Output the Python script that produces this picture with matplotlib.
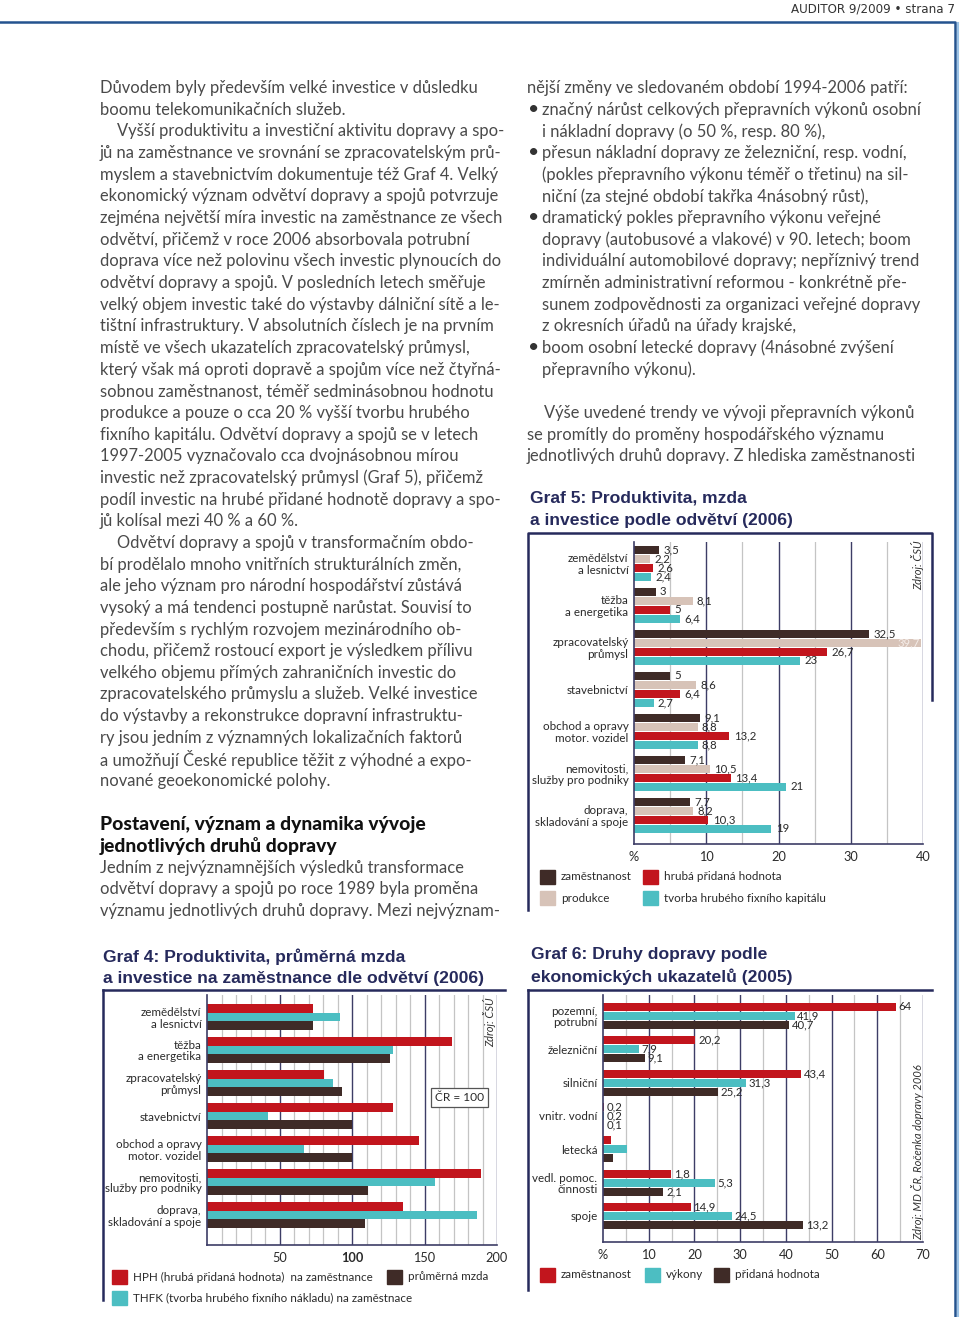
# Auditor 9/2009, strana 7 - text a grafy 4, 5, 6
import numpy as np
import matplotlib
matplotlib.use("Agg")
import matplotlib.pyplot as plt
from matplotlib.lines import Line2D
from matplotlib.patches import Rectangle

# ---- data ----
odvetvi = ["zemědělství\na lesnictví", "těžba\na energetika", "zpracovatelský\nprůmysl",
           "stavebnictví", "obchod a opravy\nmotor. vozidel", "nemovitosti,\nslužby pro podniky",
           "doprava,\nskladování a spoje"]

# Graf 4 (ČR = 100)
g4_hph = [73, 169, 81, 128, 146, 189, 135]
g4_thfk = [92, 128, 87, 42, 67, 157, 186]
g4_mzda = [73, 126, 93, 100, 100, 111, 109]
g4_ticks = [50, 100, 150, 200]

# Graf 5 (%)
g5_zam = [3.5, 3, 32.5, 5, 9.1, 7.1, 7.7]
g5_prod = [2.2, 8.1, 39.7, 8.6, 8.8, 10.5, 8.2]
g5_hph = [2.6, 5, 26.7, 6.4, 13.2, 13.4, 10.3]
g5_thfk = [2.4, 6.4, 23, 2.7, 8.8, 21, 19]
g5_ticks = [0, 10, 20, 30, 40]
g5_ticklabels = ["%", "10", "20", "30", "40"]

# Graf 6 (%)
druhy = ["pozemní,\npotrubní", "železniční", "silniční", "vnitr. vodní", "letecká",
         "vedl. pomoc.\nčinnosti", "spoje"]
g6_zam = [64, 20.2, 43.4, 0.2, 1.8, 14.9, 19.2]
g6_vyk = [41.9, 7.9, 31.3, 0.2, 5.3, 24.5, 28.2]
g6_prid = [40.7, 9.1, 25.2, 0.1, 2.1, 13.2, 43.8]
# popisky tak, jak jsou vytištěné
g6_zam_lbl = ["64", "20,2", "43,4", "0,2", "", "1,8", "14,9"]
g6_vyk_lbl = ["41,9", "7,9", "31,3", "0,2", "", "5,3", "24,5"]
g6_prid_lbl = ["40,7", "9,1", "25,2", "0,1", "", "2,1", "13,2"]
g6_ticks = [0, 10, 20, 30, 40, 50, 60, 70]
g6_ticklabels = ["%", "10", "20", "30", "40", "50", "60", "70"]

left_text = [
    "Důvodem byly především velké investice v důsledku",
    "boomu telekomunikačních služeb.",
    "    Vyšší produktivitu a investiční aktivitu dopravy a spo-",
    "jů na zaměstnance ve srovnání se zpracovatelským prů-",
    "myslem a stavebnictvím dokumentuje též Graf 4. Velký",
    "ekonomický význam odvětví dopravy a spojů potvrzuje",
    "zejména největší míra investic na zaměstnance ze všech",
    "odvětví, přičemž v roce 2006 absorbovala potrubní",
    "doprava více než polovinu všech investic plynoucích do",
    "odvětví dopravy a spojů. V posledních letech směřuje",
    "velký objem investic také do výstavby dálniční sítě a le-",
    "tištní infrastruktury. V absolutních číslech je na prvním",
    "místě ve všech ukazatelích zpracovatelský průmysl,",
    "který však má oproti dopravě a spojům více než čtyřná-",
    "sobnou zaměstnanost, téměř sedminásobnou hodnotu",
    "produkce a pouze o cca 20 % vyšší tvorbu hrubého",
    "fixního kapitálu. Odvětví dopravy a spojů se v letech",
    "1997-2005 vyznačovalo cca dvojnásobnou mírou",
    "investic než zpracovatelský průmysl (Graf 5), přičemž",
    "podíl investic na hrubé přidané hodnotě dopravy a spo-",
    "jů kolísal mezi 40 % a 60 %.",
    "    Odvětví dopravy a spojů v transformačním obdo-",
    "bí prodělalo mnoho vnitřních strukturálních změn,",
    "ale jeho význam pro národní hospodářství zůstává",
    "vysoký a má tendenci postupně narůstat. Souvisí to",
    "především s rychlým rozvojem mezinárodního ob-",
    "chodu, přičemž rostoucí export je výsledkem přílivu",
    "velkého objemu přímých zahraničních investic do",
    "zpracovatelského průmyslu a služeb. Velké investice",
    "do výstavby a rekonstrukce dopravní infrastruktu-",
    "ry jsou jedním z významných lokalizačních faktorů",
    "a umožňují České republice těžit z výhodné a expo-",
    "nované geoekonomické polohy.",
]
heading = ["Postavení, význam a dynamika vývoje", "jednotlivých druhů dopravy"]
left_text2 = [
    "Jedním z nejvýznamnějších výsledků transformace",
    "odvětví dopravy a spojů po roce 1989 byla proměna",
    "významu jednotlivých druhů dopravy. Mezi nejvýznam-",
]
# (odrážka?, text)
right_text = [
    (False, "nější změny ve sledovaném období 1994-2006 patří:"),
    (True, "značný nárůst celkových přepravních výkonů osobní"),
    (None, "i nákladní dopravy (o 50 %, resp. 80 %),"),
    (True, "přesun nákladní dopravy ze železniční, resp. vodní,"),
    (None, "(pokles přepravního výkonu téměř o třetinu) na sil-"),
    (None, "niční (za stejné období takřka 4násobný růst),"),
    (True, "dramatický pokles přepravního výkonu veřejné"),
    (None, "dopravy (autobusové a vlakové) v 90. letech; boom"),
    (None, "individuální automobilové dopravy; nepříznivý trend"),
    (None, "zmírněn administrativní reformou - konkrétně pře-"),
    (None, "sunem zodpovědnosti za organizaci veřejné dopravy"),
    (None, "z okresních úřadů na úřady krajské,"),
    (True, "boom osobní letecké dopravy (4násobné zvýšení"),
    (None, "přepravního výkonu)."),
    (False, ""),
    (False, "    Výše uvedené trendy ve vývoji přepravních výkonů"),
    (False, "se promítly do proměny hospodářského významu"),
    (False, "jednotlivých druhů dopravy. Z hlediska zaměstnanosti"),
]

# ---- styl ----
C_BROWN = "#3f2b27"
C_BEIGE = "#d7c3b8"
C_RED = "#c2151d"
C_CYAN = "#4cbec2"
C_NAVY = "#262a5c"
C_GRID = "#3d3d66"
C_MINOR = "#c4c4c4"
C_TEXT = "#4a4a4a"
BODY = dict(family=["Lato", "DejaVu Sans"], fontweight="normal", fontsize=11.9, color=C_TEXT)
SMALL = dict(family=["Lato", "DejaVu Sans"], fontsize=8.35, color="#2a2a2a")
TITLE = dict(family=["Liberation Sans", "DejaVu Sans"], fontweight="bold", fontsize=12.6, color=C_NAVY)

W, H = 960, 1317
fig = plt.figure(figsize=(W / 100, H / 100), dpi=100)


def fx(x):
    return x / W


def fy(y):
    return 1 - y / H


def put(x, y, s, **kw):
    kw.setdefault("va", "center")
    fig.text(fx(x), fy(y), s, **kw)


def line(xs, ys, **kw):
    fig.add_artist(Line2D([fx(x) for x in xs], [fy(y) for y in ys], **kw))


def fmt(v):
    return f"{v:g}".replace(".", ",")


def bar_chart(box, xmax, series, colors, first_top, gpitch, bpitch, bh, cats,
              minor, major, ticks, ticklabels):
    x0, y0, x1, y1 = box
    ax = fig.add_axes([fx(x0), fy(y1), (x1 - x0) / W, (y1 - y0) / H])
    ax.set_xlim(0, xmax)
    ax.set_ylim(y1 - y0, 0)  # y v pixelech od horního okraje os
    for v in minor:
        ax.axvline(v, color=C_MINOR, lw=0.9, zorder=0)
    for v in major:
        ax.axvline(v, color=C_GRID, lw=1.0, zorder=0)
    n = len(cats)
    g = np.arange(n)
    centers = []
    for j, (vals, col) in enumerate(zip(series, colors)):
        yc = (first_top - y0) + g * gpitch + j * bpitch + bh / 2
        ax.barh(yc, vals, height=bh, color=col, zorder=2)
        centers.append(yc)
    ax.set_yticks((centers[0] + centers[-1]) / 2)
    ax.set_yticklabels(cats, ha="right", linespacing=1.05, **SMALL)
    ax.set_xticks(ticks)
    ax.set_xticklabels(ticklabels, family=["Lato", "DejaVu Sans"], fontsize=9.2, color="#2a2a2a")
    ax.tick_params(axis="y", length=0, pad=4)
    ax.tick_params(axis="x", length=0, pad=5)
    for s in ("top", "right"):
        ax.spines[s].set_visible(False)
    for s in ("left", "bottom"):
        ax.spines[s].set_color(C_GRID)
        ax.spines[s].set_linewidth(1.2)
    ax.set_facecolor("none")
    return ax, centers


# ---- záhlaví a rámeček stránky ----
put(955, 9, "AUDITOR 9/2009 • strana 7", ha="right",
    family=["Liberation Sans Narrow", "DejaVu Sans"], fontsize=8.6, color="#333333")
line([0, 955, 955], [22, 22, 1317], color="#24538f", lw=1.8)
line([957.5, 957.5], [23, 1317], color="#9cc3e6", lw=1.5)

# ---- text ----
pitch = 21.66
for i, s in enumerate(left_text):
    put(100, 88 + i * pitch, s, **BODY)
for i, s in enumerate(heading):
    put(100, 88 + (len(left_text) + 1 + i) * pitch, s,
        family=["Lato", "DejaVu Sans"], fontweight="black", fontsize=13.9, color="#111111")
for i, s in enumerate(left_text2):
    put(100, 88 + (len(left_text) + 3 + i) * pitch, s, **BODY)

for i, (bul, s) in enumerate(right_text):
    y = 88 + i * pitch
    if bul is True:
        put(528, y, "•", family=["Lato", "DejaVu Sans"], fontsize=14, color="#333333")
    put(527 if bul is False else 542, y, s, **BODY)

# ---- Graf 5 ----
put(530, 498, "Graf 5: Produktivita, mzda", **TITLE)
put(530, 520, "a investice podle odvětví (2006)", **TITLE)
line([528, 528, 932, 932], [910, 533, 533, 700], color=C_NAVY, lw=1.8)
ax5, c5 = bar_chart((634, 542, 923, 844), 40, [g5_zam, g5_prod, g5_hph, g5_thfk],
                    [C_BROWN, C_BEIGE, C_RED, C_CYAN], 546, 42, 9, 8, odvetvi,
                    [5, 15, 25, 35], [10, 20, 30, 40], g5_ticks, g5_ticklabels)
for vals, yc in zip([g5_zam, g5_prod, g5_hph, g5_thfk], c5):
    for v, y in zip(vals, yc):
        if v >= 39:
            ax5.text(v - 0.1, y, fmt(v), ha="right", va="center", fontsize=8.2, color="#f4ece8",
                     family=["Lato", "DejaVu Sans"], zorder=3)
        else:
            ax5.text(v + 0.6, y, fmt(v), ha="left", va="center", fontsize=8.2, color="#2a2a2a",
                     family=["Lato", "DejaVu Sans"], zorder=3)
put(918, 565, "Zdroj: ČSÚ", rotation=90, ha="center", style="italic",
    family=["Lato", "DejaVu Sans"], fontsize=8, color="#333333")
for (x, y, col, lab) in [(540, 877, C_BROWN, "zaměstnanost"), (540, 898, C_BEIGE, "produkce"),
                         (643, 877, C_RED, "hrubá přidaná hodnota"),
                         (643, 898, C_CYAN, "tvorba hrubého fixního kapitálu")]:
    fig.add_artist(Rectangle((fx(x), fy(y + 7)), 15 / W, 14 / H, color=col, transform=fig.transFigure))
    put(x + 21, y, lab, **SMALL)

# ---- Graf 4 ----
put(103, 957, "Graf 4: Produktivita, průměrná mzda", **TITLE)
put(103, 978, "a investice na zaměstnance dle odvětví (2006)", **TITLE)
line([103, 103], [1300, 990], color=C_NAVY, lw=1.8)
line([103, 505], [990, 990], color=C_NAVY, lw=1.8)
ax4, c4 = bar_chart((207, 995, 497, 1245), 200, [g4_hph, g4_thfk, g4_mzda],
                    [C_RED, C_CYAN, C_BROWN], 1004, 33, 8.7, 8.7, odvetvi,
                    [10, 20, 30, 40, 60, 70, 80, 90, 110, 120, 130, 140, 160, 170, 180, 190],
                    [50, 100, 150, 200], g4_ticks, [str(t) for t in g4_ticks])
ax4.get_xticklabels()[1].set_fontweight("bold")
ax4.text(0.87, 0.59, "ČR = 100", transform=ax4.transAxes, ha="center", va="center",
         family=["Lato", "DejaVu Sans"], fontsize=8.6, color="#2a2a2a", zorder=4,
         bbox=dict(boxstyle="square,pad=0.35", fc="white", ec="#555555", lw=0.9))
put(490, 1022, "Zdroj: ČSÚ", rotation=90, ha="center", style="italic",
    family=["Lato", "DejaVu Sans"], fontsize=8, color="#333333")
for (x, y, col, lab) in [(112, 1277, C_RED, "HPH (hrubá přidaná hodnota)  na zaměstnance"),
                         (387, 1277, C_BROWN, "průměrná mzda"),
                         (112, 1298, C_CYAN, "THFK (tvorba hrubého fixního nákladu) na zaměstnace")]:
    fig.add_artist(Rectangle((fx(x), fy(y + 7)), 15 / W, 14 / H, color=col, transform=fig.transFigure))
    put(x + 21, y, lab, **SMALL)

# ---- Graf 6 ----
put(531, 955, "Graf 6: Druhy dopravy podle", **TITLE)
put(531, 977, "ekonomických ukazatelů (2005)", **TITLE)
line([528, 528], [1290, 990], color=C_NAVY, lw=1.8)
line([528, 932], [990, 990], color=C_NAVY, lw=1.8)
ax6, c6 = bar_chart((603, 995, 923, 1242), 70, [g6_zam, g6_vyk, g6_prid],
                    [C_RED, C_CYAN, C_BROWN], 1003, 33.3, 9, 8, druhy,
                    [5, 15, 25, 35, 45, 55, 65], [10, 20, 30, 40, 50, 60, 70],
                    g6_ticks, g6_ticklabels)
for vals, labs, yc in zip([g6_zam, g6_vyk, g6_prid], [g6_zam_lbl, g6_vyk_lbl, g6_prid_lbl], c6):
    for v, lab, y in zip(vals, labs, yc):
        ax6.text(v + 0.6, y, lab, ha="left", va="center", fontsize=8.2, color="#2a2a2a",
                 family=["Lato", "DejaVu Sans"], zorder=3)
put(918, 1152, "Zdroj: MD ČR, Ročenka dopravy 2006", rotation=90, ha="center", style="italic",
    family=["Lato", "DejaVu Sans"], fontsize=8, color="#333333")
for (x, y, col, lab) in [(540, 1275, C_RED, "zaměstnanost"), (645, 1275, C_CYAN, "výkony"),
                         (714, 1275, C_BROWN, "přidaná hodnota")]:
    fig.add_artist(Rectangle((fx(x), fy(y + 7)), 15 / W, 14 / H, color=col, transform=fig.transFigure))
    put(x + 21, y, lab, **SMALL)

fig.savefig("out.png", dpi=100, facecolor="white")
